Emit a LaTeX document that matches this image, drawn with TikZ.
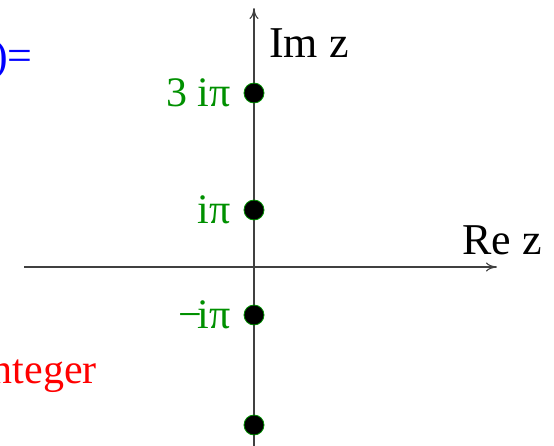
\documentclass[tikz,border=0pt]{standalone}
\usepackage{fontspec}
\setmainfont{Liberation Serif}
\usetikzlibrary{positioning,arrows.meta}
\definecolor{poleGreen}{RGB}{0,144,0}

\begin{document}
\begin{tikzpicture}[x=1pt, y=-1pt,
  axis/.style={draw=black!75, line width=1.1pt, -{To[length=11pt,width=9pt]}},
  pole/.style={
    circle, fill=black, draw=poleGreen, line width=0.8pt,
    minimum size=20pt, inner sep=0pt
  },
  poletxt/.style={text=poleGreen, inner sep=0pt, font=\fontsize{42}{50}\selectfont},
  axtxt/.style={inner sep=0pt, font=\fontsize{44}{52}\selectfont},
]
\useasboundingbox (0,0) rectangle (554,445);

%% Axis end points
\coordinate (xstart) at (24,267);
\coordinate (xend)   at (497,267);
\coordinate (ybot)   at (254,452);
\coordinate (ytop)   at (254,8);

%% Axes
\draw[axis] (xstart) -- (xend);
\draw[axis] (ybot) -- (ytop);

%% Axis labels
\node[axtxt, anchor=base west] (imlbl) at (269,57)  {Im z};
\node[axtxt, anchor=base west] (relbl) at (462,254) {Re z};

%% Poles on the imaginary axis
\node[pole] (p3) at (254,93)  {};
\node[pole] (p1) at (254,210) {};
\node[pole] (m1) at (254,315) {};
\node[pole] (m3) at (254,425) {};

%% Pole labels
\node[poletxt, left=13pt of p3] (p3lbl) {3 iπ};
\node[poletxt, left=13pt of p1] (p1lbl) {iπ};
\node[poletxt, left=13pt of m1] (m1lbl) {−\kern-5pt iπ};

%% Text cut at the left edge
\node[axtxt, text=blue, anchor=base east] (fdef)    at (33,70)  {)=};
\node[poletxt, text=red, anchor=base east] (intnote) at (97,383) {nteger};

\end{tikzpicture}
\end{document}
